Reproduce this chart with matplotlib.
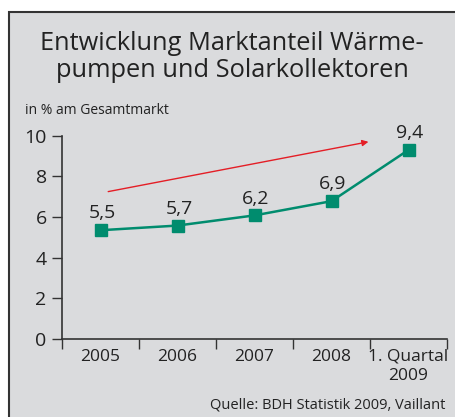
import matplotlib.pyplot as plt
from matplotlib.patches import Rectangle

# data
categories = ['2005', '2006', '2007', '2008', '1. Quartal\n2009']
values = [5.35, 5.58, 6.08, 6.78, 9.3]
value_labels = ['5,5', '5,7', '6,2', '6,9', '9,4']
y_ticks = [0, 2, 4, 6, 8, 10]

bg = '#dadbdd'
green = '#008c6e'
plt.rcParams['font.family'] = ['Open Sans', 'DejaVu Sans']

fig = plt.figure(figsize=(4.55, 4.17), dpi=100)
fig.patch.set_facecolor('white')

# grey box with dark border on top and left
W, H = 455, 417
box = Rectangle((9 / W, -0.05), 1.1, (H - 12) / H + 0.05, transform=fig.transFigure,
                facecolor=bg, edgecolor='#333333', linewidth=1.5, zorder=-5)
fig.patches.append(box)

ax = fig.add_axes([62 / W, (H - 339) / H, 385 / W, 203.3 / H])
ax.set_facecolor('none')

x = list(range(len(categories)))
ax.plot(x, values, color=green, linewidth=1.8, marker='s', markersize=8,
        markerfacecolor=green, markeredgecolor=green, zorder=3, clip_on=False)

for xi, v, lab in zip(x, values, value_labels):
    ax.annotate(lab, (xi, v), textcoords='offset points', xytext=(1, 8.5),
                ha='center', va='baseline', fontsize=14, color='#222222')

# red trend arrow
ax.annotate('', xy=(3.48, 9.7), xytext=(0.1, 7.25),
            arrowprops=dict(arrowstyle='-|>', color='#e41e26', lw=1.0,
                            mutation_scale=9, shrinkA=0, shrinkB=0))

ax.set_xlim(-0.5, 4.5)
ax.set_ylim(0, 10)
ax.set_yticks(y_ticks)
ax.set_yticklabels([str(t) for t in y_ticks], fontsize=14, color='#222222')
ax.set_xticks(x)
ax.set_xticklabels(categories, fontsize=12.5, color='#222222', linespacing=1.3)
ax.tick_params(axis='x', length=0, pad=7)
ax.set_xticks([i - 0.5 for i in range(len(categories) + 1)], minor=True)
ax.tick_params(axis='x', which='minor', length=7, width=1, color='#333333', direction='out')
ax.tick_params(axis='y', length=7, width=1, color='#333333', pad=4)

for s in ['top', 'right']:
    ax.spines[s].set_visible(False)
for s in ['left', 'bottom']:
    ax.spines[s].set_color('#333333')
    ax.spines[s].set_linewidth(1.2)

fig.text(232 / W, 1 - 57 / H, 'Entwicklung Marktanteil Wärme-\npumpen und Solarkollektoren',
         ha='center', va='center', fontsize=18.3, color='#222222', linespacing=1.15)
fig.text(25 / W, 1 - 110 / H, 'in % am Gesamtmarkt', ha='left', va='center',
         fontsize=10, color='#222222')
fig.text(445 / W, 1 - 405 / H, 'Quelle: BDH Statistik 2009, Vaillant', ha='right',
         va='center', fontsize=10.5, color='#222222')

fig.savefig('out.png', dpi=100, facecolor=fig.get_facecolor())
